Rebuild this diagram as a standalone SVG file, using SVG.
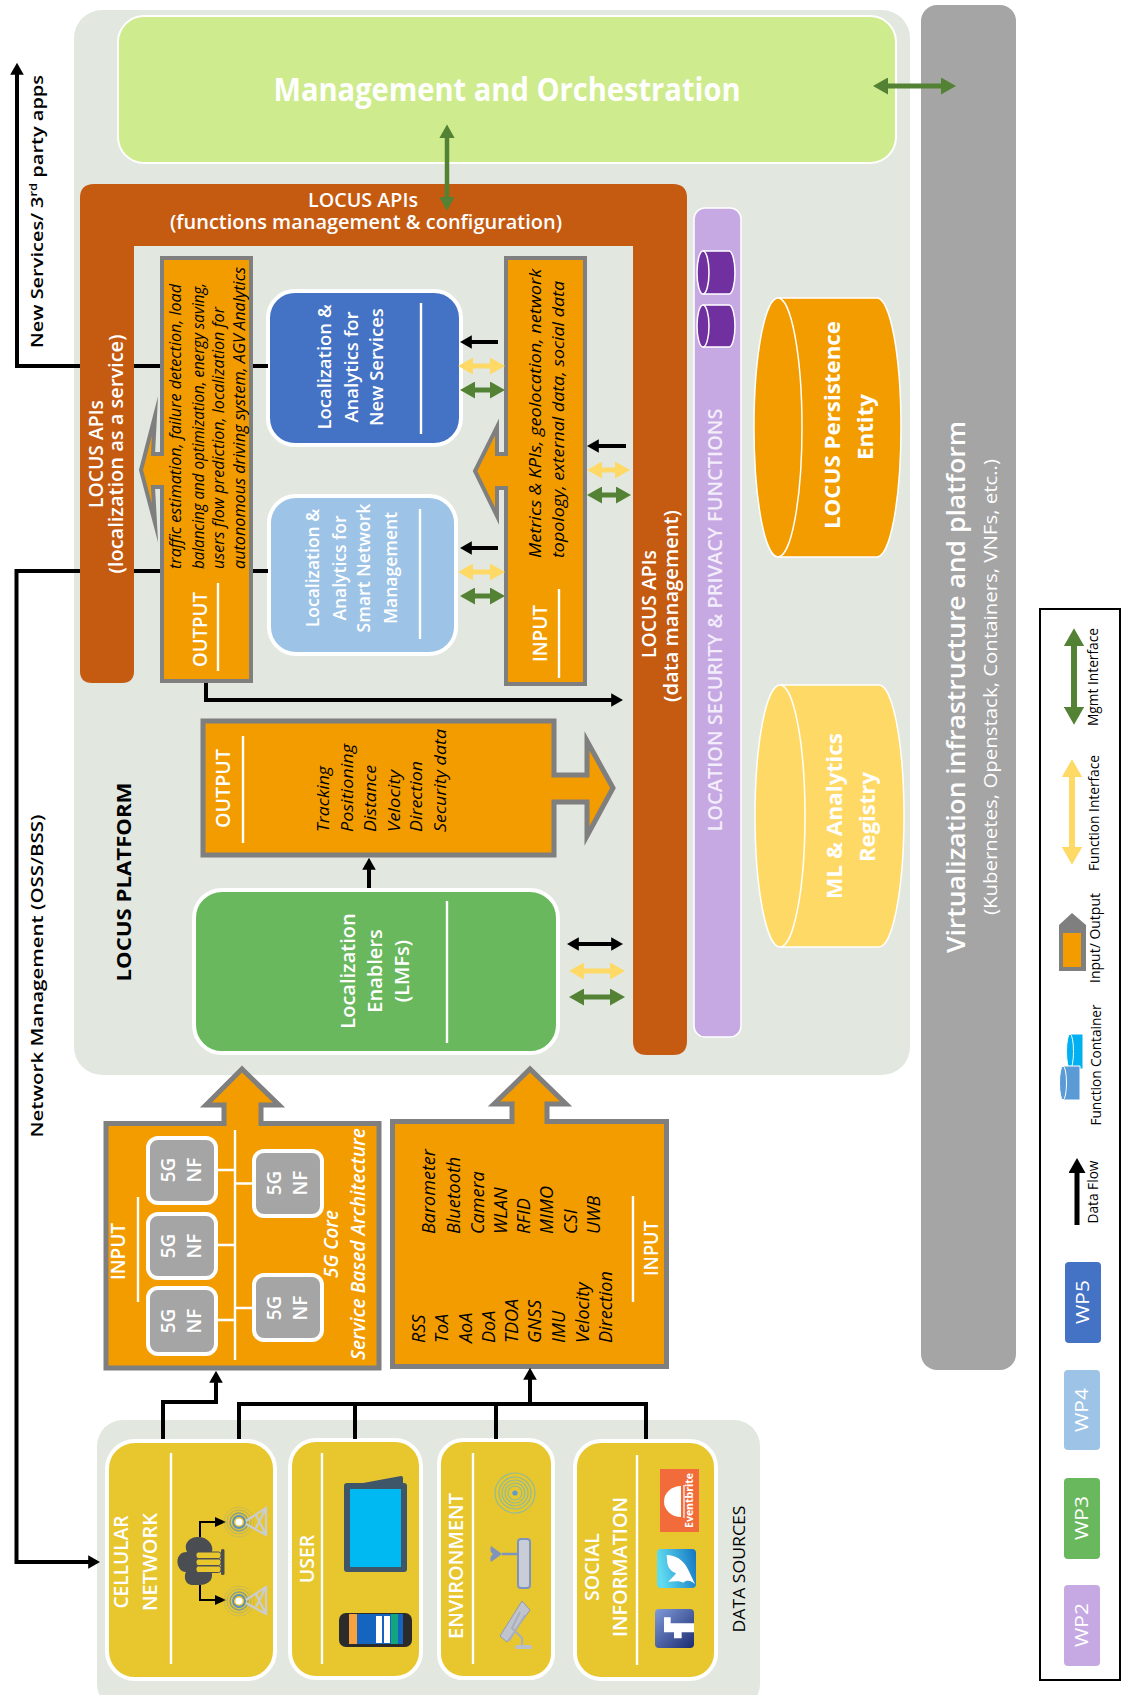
<svg xmlns="http://www.w3.org/2000/svg" width="1122" height="1695" viewBox="0 0 1122 1695" font-family="'Open Sans','Noto Sans',sans-serif">
<style>
.t{fill:#fff;font-weight:600}
.tb{fill:#fff;font-weight:700}
.k{fill:#000}
.i{font-style:italic;font-size:16px;fill:#000}
.wp{stroke:#fff;stroke-width:4}
.io{fill:#F39C00;stroke:#7F7F7F;stroke-width:5;stroke-miterlimit:10}
.ln{stroke:#fff;stroke-width:2.4;fill:none}
.nf{fill:#A5A5A5;stroke:#fff;stroke-width:4}
.src{fill:#E8C62E;stroke:#fff;stroke-width:4}
.cbk{fill:none;stroke:#000;stroke-width:4}
.cy{fill:none;stroke:#FFD966;stroke-width:5}
.cg{fill:none;stroke:#548235;stroke-width:5}
.ct{font-size:14.500px;fill:#000}
</style>
<defs>
<marker id="mk" markerWidth="3" markerHeight="3.4" refX="0.2" refY="1.7" orient="auto-start-reverse"><path d="M0,0L3,1.7L0,3.4z" fill="#000"/></marker>
<marker id="my" markerWidth="3" markerHeight="3.4" refX="0.2" refY="1.7" orient="auto-start-reverse"><path d="M0,0L3,1.7L0,3.4z" fill="#FFD966"/></marker>
<marker id="mg" markerWidth="3" markerHeight="3.4" refX="0.2" refY="1.7" orient="auto-start-reverse"><path d="M0,0L3,1.7L0,3.4z" fill="#548235"/></marker>
<linearGradient id="gt" x1="0" x2="1" y1="0.2" y2="0"><stop offset="0" stop-color="#5FDCF0"/><stop offset="1" stop-color="#1475C2"/></linearGradient>
<linearGradient id="gf" x1="0" x2="1" y1="0" y2="1"><stop offset="0" stop-color="#7F9BDA"/><stop offset="1" stop-color="#1C2C70"/></linearGradient>
<g id="tower">
<circle r="6" fill="none" stroke="#5B8FBF" stroke-width="1.8"/>
<circle r="9" fill="none" stroke="#5B8FBF" stroke-width="1.4" opacity=".7"/>
<circle r="12" fill="none" stroke="#7F9F9F" stroke-width="1" opacity=".5"/>
<circle r="15" fill="none" stroke="#A5A88A" stroke-width="1" opacity=".4"/>
<path d="M7,-1L27,-14L27,13L7,2M17,-7L27,13M27,-14L17,6" fill="none" stroke="#C9CDD3" stroke-width="2.2"/>
<circle r="3.6" fill="#fff"/>
</g>
</defs>

<g id="data-sources-bg">
<rect x="97" y="1420" width="663" height="290" rx="26" fill="#E2E7E0"/>
<text transform="rotate(-90 745 1569)" x="745" y="1569" text-anchor="middle" font-size="17" class="k" textLength="127" lengthAdjust="spacingAndGlyphs">DATA SOURCES</text>
</g>
<g id="platform-bg">
<rect x="74" y="10" width="836" height="1065" rx="28" fill="#E2E7E0"/>
<text transform="rotate(-90 131 882)" x="131" y="882" text-anchor="middle" font-size="20" font-weight="700" class="k" textLength="199" lengthAdjust="spacingAndGlyphs">LOCUS PLATFORM</text>
</g>

<g id="virtualization">
<rect x="921" y="5" width="95" height="1365" rx="16" fill="#A5A5A5"/>
<text class="t" transform="rotate(-90 965 687)" x="965" y="687" text-anchor="middle" font-size="25" textLength="532" lengthAdjust="spacingAndGlyphs">Virtualization infrastructure and platform</text>
<text transform="rotate(-90 997 687)" x="997" y="687" text-anchor="middle" font-size="19" fill="#fff" textLength="456" lengthAdjust="spacingAndGlyphs">(Kubernetes, Openstack, Containers, VNFs, etc..)</text>
</g>

<g id="mano">
<rect x="118" y="16" width="778" height="147" rx="26" fill="#CEEB8D" stroke="#fff" stroke-width="2"/>
<text x="507" y="101" text-anchor="middle" font-size="32" font-weight="700" fill="#fff" textLength="467" lengthAdjust="spacingAndGlyphs">Management and Orchestration</text>
</g>

<g id="locus-apis">
<path d="M94,184H673Q687,184 687,198V1041Q687,1055 673,1055H647Q633,1055 633,1041V246H134V671Q134,683 122,683H92Q80,683 80,671V198Q80,184 94,184Z" fill="#C55A11"/>
<text class="t" x="363" y="207" text-anchor="middle" font-size="20" textLength="110" lengthAdjust="spacingAndGlyphs">LOCUS APIs</text>
<text class="t" x="366" y="229" text-anchor="middle" font-size="20" textLength="392" lengthAdjust="spacingAndGlyphs">(functions management &amp; configuration)</text>
<text class="t" transform="rotate(-90 103 454)" x="103" y="454" text-anchor="middle" font-size="20" textLength="108" lengthAdjust="spacingAndGlyphs">LOCUS APIs</text>
<text class="t" transform="rotate(-90 123 454)" x="123" y="454" text-anchor="middle" font-size="20" textLength="239" lengthAdjust="spacingAndGlyphs">(localization as a service)</text>
<text class="t" transform="rotate(-90 656 604)" x="656" y="604" text-anchor="middle" font-size="20" textLength="108" lengthAdjust="spacingAndGlyphs">LOCUS APIs</text>
<text class="t" transform="rotate(-90 678 606)" x="678" y="606" text-anchor="middle" font-size="20" textLength="192" lengthAdjust="spacingAndGlyphs">(data management)</text>
</g>

<g id="security">
<rect x="694" y="208" width="47" height="829" rx="11" fill="#C6A9E3" stroke="#fff" stroke-width="1.5"/>
<path d="M703,251H729A6,21.5 0 0 1 729,294H703" fill="#7030A0" stroke="#fff" stroke-width="1.5"/>
<ellipse cx="703" cy="272.5" rx="6" ry="21.5" fill="#7030A0" stroke="#fff" stroke-width="1.5"/>
<path d="M703,305H729A6,21 0 0 1 729,347H703" fill="#7030A0" stroke="#fff" stroke-width="1.5"/>
<ellipse cx="703" cy="326" rx="6" ry="21" fill="#7030A0" stroke="#fff" stroke-width="1.5"/>
<text class="t" transform="rotate(-90 722 620)" x="722" y="620" text-anchor="middle" font-size="20" style="fill:#F3ECFA" textLength="423" lengthAdjust="spacingAndGlyphs">LOCATION SECURITY &amp; PRIVACY FUNCTIONS</text>
</g>

<g id="persistence">
<path d="M778,298H877A24,129.5 0 0 1 877,557H778" fill="#F39C00" stroke="#fff" stroke-width="1.5"/>
<ellipse cx="778" cy="427.500" rx="24" ry="129.500" fill="#F39C00" stroke="#fff" stroke-width="1.5"/>
<text class="tb" transform="rotate(-90 840 425)" x="840" y="425" text-anchor="middle" font-size="22" textLength="208" lengthAdjust="spacingAndGlyphs">LOCUS Persistence</text>
<text class="tb" transform="rotate(-90 873 427)" x="873" y="427" text-anchor="middle" font-size="22" textLength="66" lengthAdjust="spacingAndGlyphs">Entity</text>
</g>
<g id="registry">
<path d="M780,685H879A25,131 0 0 1 879,947H780" fill="#FFD966" stroke="#fff" stroke-width="1.5"/>
<ellipse cx="780" cy="816" rx="25" ry="131" fill="#FFD966" stroke="#fff" stroke-width="1.5"/>
<text class="tb" transform="rotate(-90 842 816)" x="842" y="816" text-anchor="middle" font-size="22" textLength="166" lengthAdjust="spacingAndGlyphs">ML &amp; Analytics</text>
<text class="tb" transform="rotate(-90 875 817)" x="875" y="817" text-anchor="middle" font-size="22" textLength="90" lengthAdjust="spacingAndGlyphs">Registry</text>
</g>

<g id="analytics-output">
<path class="io" style="stroke-width:4" d="M162,258H251V681H162V487H153L155,523L141,470L155,416L153,454H162Z"/>
<text class="t" transform="rotate(-90 207 667)" x="207" y="667" font-size="19" textLength="75" lengthAdjust="spacingAndGlyphs">OUTPUT</text>
<path class="ln" d="M218,583V671"/>
<text class="i" transform="rotate(-90 181 569)" x="181" y="569" textLength="285" lengthAdjust="spacingAndGlyphs">traffic estimation, failure detection, load</text>
<text class="i" transform="rotate(-90 204 569)" x="204" y="569" textLength="286" lengthAdjust="spacingAndGlyphs">balancing and optimization, energy saving,</text>
<text class="i" transform="rotate(-90 224 569)" x="224" y="569" textLength="262" lengthAdjust="spacingAndGlyphs">users flow prediction, localization for</text>
<text class="i" transform="rotate(-90 245 569)" x="245" y="569" textLength="302" lengthAdjust="spacingAndGlyphs">autonomous driving system, AGV Analytics</text>
</g>

<g id="analytics-input">
<path class="io" style="stroke-width:4" d="M506,258H585V684H506V488H497V516L475,471L497,427V454H506Z"/>
<text class="t" transform="rotate(-90 547 662)" x="547" y="662" font-size="19" textLength="57" lengthAdjust="spacingAndGlyphs">INPUT</text>
<path class="ln" d="M559,589V678"/>
<text class="i" transform="rotate(-90 541 558)" x="541" y="558" textLength="289" lengthAdjust="spacingAndGlyphs">Metrics &amp; KPIs, geolocation, network</text>
<text class="i" transform="rotate(-90 564 558)" x="564" y="558" textLength="277" lengthAdjust="spacingAndGlyphs">topology, external data, social data</text>
</g>

<g id="wp5-new-services">
<rect class="wp" x="268" y="291" width="193" height="154" rx="27" fill="#4472C4"/>
<text class="t" transform="rotate(-90 331 367)" x="331" y="367" text-anchor="middle" font-size="18.500">Localization &amp;</text>
<text class="t" transform="rotate(-90 358 367)" x="358" y="367" text-anchor="middle" font-size="18.500">Analytics for</text>
<text class="t" transform="rotate(-90 383 367)" x="383" y="367" text-anchor="middle" font-size="18.500">New Services</text>
<path class="ln" d="M421,303V434"/>
</g>
<g id="wp4-network-management">
<rect class="wp" x="269" y="496" width="187" height="158" rx="27" fill="#9DC3E6"/>
<text class="t" transform="rotate(-90 319 568)" x="319" y="568" text-anchor="middle" font-size="17.500">Localization &amp;</text>
<text class="t" transform="rotate(-90 346 568)" x="346" y="568" text-anchor="middle" font-size="17.500">Analytics for</text>
<text class="t" transform="rotate(-90 370 568)" x="370" y="568" text-anchor="middle" font-size="17.500">Smart Network</text>
<text class="t" transform="rotate(-90 397 568)" x="397" y="568" text-anchor="middle" font-size="17.500">Management</text>
<path class="ln" d="M420,509V639"/>
</g>

<g id="lmf-output">
<path class="io" d="M203,721H554V775H587V741L613,788L587,836V802H554V855H203Z"/>
<text class="t" transform="rotate(-90 230 828)" x="230" y="828" font-size="19" textLength="79" lengthAdjust="spacingAndGlyphs">OUTPUT</text>
<path class="ln" d="M243,736V843"/>
<text class="i" transform="rotate(-90 329 832)" x="329" y="832" style="font-size:17px" textLength="66" lengthAdjust="spacingAndGlyphs">Tracking</text>
<text class="i" transform="rotate(-90 353 832)" x="353" y="832" style="font-size:17px" textLength="88" lengthAdjust="spacingAndGlyphs">Positioning</text>
<text class="i" transform="rotate(-90 376 832)" x="376" y="832" style="font-size:17px" textLength="67" lengthAdjust="spacingAndGlyphs">Distance</text>
<text class="i" transform="rotate(-90 400 832)" x="400" y="832" style="font-size:17px" textLength="62" lengthAdjust="spacingAndGlyphs">Velocity</text>
<text class="i" transform="rotate(-90 422 832)" x="422" y="832" style="font-size:17px" textLength="71" lengthAdjust="spacingAndGlyphs">Direction</text>
<text class="i" transform="rotate(-90 446 832)" x="446" y="832" style="font-size:17px" textLength="103" lengthAdjust="spacingAndGlyphs">Security data</text>
</g>

<g id="wp3-lmf">
<rect class="wp" x="194" y="890" width="364" height="163" rx="28" fill="#69B85E"/>
<text class="t" transform="rotate(-90 355 971)" x="355" y="971" text-anchor="middle" font-size="20">Localization</text>
<text class="t" transform="rotate(-90 382 971)" x="382" y="971" text-anchor="middle" font-size="20">Enablers</text>
<text class="t" transform="rotate(-90 409 971)" x="409" y="971" text-anchor="middle" font-size="20">(LMFs)</text>
<path class="ln" d="M447,901V1043"/>
</g>

<g id="input-5g">
<path class="io" d="M106,1123.500H224V1105H206L242,1069L279,1105H261V1123.500H379V1368H106Z"/>
<text class="t" transform="rotate(-90 125 1280)" x="125" y="1280" font-size="19" textLength="57" lengthAdjust="spacingAndGlyphs">INPUT</text>
<path class="ln" d="M138,1197V1302"/>
<path class="ln" d="M235,1130V1360M216,1170H235M216,1245H235M216,1320H235M235,1183.500H254M235,1308H254"/>
<g id="nf1"><rect class="nf" x="148" y="1138" width="68" height="65" rx="10"/></g>
<g id="nf2"><rect class="nf" x="148" y="1214" width="68" height="64" rx="10"/></g>
<g id="nf3"><rect class="nf" x="148" y="1288" width="68" height="66" rx="10"/></g>
<g id="nf4"><rect class="nf" x="254" y="1151" width="68" height="65" rx="10"/></g>
<g id="nf5"><rect class="nf" x="254" y="1275" width="68" height="65" rx="10"/></g>
<g font-size="19" font-weight="600" text-anchor="middle" fill="#fff">
<text transform="rotate(-90 175 1170)" x="175" y="1170">5G</text><text transform="rotate(-90 201 1170)" x="201" y="1170">NF</text>
<text transform="rotate(-90 175 1246)" x="175" y="1246">5G</text><text transform="rotate(-90 201 1246)" x="201" y="1246">NF</text>
<text transform="rotate(-90 175 1321)" x="175" y="1321">5G</text><text transform="rotate(-90 201 1321)" x="201" y="1321">NF</text>
<text transform="rotate(-90 281 1183)" x="281" y="1183">5G</text><text transform="rotate(-90 307 1183)" x="307" y="1183">NF</text>
<text transform="rotate(-90 281 1308)" x="281" y="1308">5G</text><text transform="rotate(-90 307 1308)" x="307" y="1308">NF</text>
</g>
<text transform="rotate(-90 338 1278)" x="338" y="1278" font-size="19" font-style="italic" font-weight="600" fill="#fff" textLength="68" lengthAdjust="spacingAndGlyphs">5G Core</text>
<text transform="rotate(-90 365 1360)" x="365" y="1360" font-size="19" font-style="italic" font-weight="600" fill="#fff" textLength="232" lengthAdjust="spacingAndGlyphs">Service Based Architecture</text>
</g>

<g id="input-radio">
<path class="io" d="M392.500,1121.500H512V1104H494L530,1069L566,1104H547V1121.500H666.500V1366.500H392.500Z"/>
<g font-style="italic" font-size="18" fill="#000">
<text transform="rotate(-90 425 1343)" x="425" y="1343">RSS</text>
<text transform="rotate(-90 448 1343)" x="448" y="1343">ToA</text>
<text transform="rotate(-90 472 1343)" x="472" y="1343">AoA</text>
<text transform="rotate(-90 495 1343)" x="495" y="1343">DoA</text>
<text transform="rotate(-90 518 1343)" x="518" y="1343">TDOA</text>
<text transform="rotate(-90 541 1343)" x="541" y="1343">GNSS</text>
<text transform="rotate(-90 565 1343)" x="565" y="1343">IMU</text>
<text transform="rotate(-90 589 1343)" x="589" y="1343">Velocity</text>
<text transform="rotate(-90 612 1343)" x="612" y="1343">Direction</text>
<text transform="rotate(-90 435 1234)" x="435" y="1234">Barometer</text>
<text transform="rotate(-90 460 1234)" x="460" y="1234">Bluetooth</text>
<text transform="rotate(-90 484 1234)" x="484" y="1234">Camera</text>
<text transform="rotate(-90 507 1234)" x="507" y="1234">WLAN</text>
<text transform="rotate(-90 530 1234)" x="530" y="1234">RFID</text>
<text transform="rotate(-90 553 1234)" x="553" y="1234">MIMO</text>
<text transform="rotate(-90 577 1234)" x="577" y="1234">CSI</text>
<text transform="rotate(-90 600 1234)" x="600" y="1234">UWB</text>
</g>
<text class="t" transform="rotate(-90 658 1276)" x="658" y="1276" font-size="19" textLength="55" lengthAdjust="spacingAndGlyphs">INPUT</text>
<path class="ln" d="M633,1196V1302"/>
</g>

<g id="cellular-network">
<rect class="src" x="107" y="1441" width="168" height="238" rx="28"/>
<text class="t" transform="rotate(-90 128 1562)" x="128" y="1562" text-anchor="middle" font-size="19.500" textLength="93" lengthAdjust="spacingAndGlyphs">CELLULAR</text>
<text class="t" transform="rotate(-90 157 1562)" x="157" y="1562" text-anchor="middle" font-size="19.500" textLength="98" lengthAdjust="spacingAndGlyphs">NETWORK</text>
<path class="ln" d="M171,1453V1664"/>
<path d="M200,1537V1522H216M200,1585V1600H216" fill="none" stroke="#000" stroke-width="2"/>
<path d="M215,1517L226,1522L215,1527ZM215,1595L226,1600L215,1605Z" fill="#000"/>
<path d="M193,1585C184,1585 184,1575 186,1572C176,1572 173,1552 187,1552C183,1543 190,1537 198,1537C208,1537 214,1545 212,1552L212,1576C212,1582 205,1585 200,1585Z" fill="#4A4E52"/>
<g fill="#E8C62E" stroke="#4A4E52" stroke-width="1">
<rect x="196" y="1552" width="25" height="6.500" rx="2.500"/>
<rect x="196" y="1559" width="25" height="6.500" rx="2.500"/>
<rect x="196" y="1566" width="25" height="6.500" rx="2.500"/>
</g>
<rect x="221" y="1549" width="3.500" height="26" rx="1.500" fill="#4A4E52"/>
<use href="#tower" transform="translate(239,1522)"/>
<use href="#tower" transform="translate(239,1601)"/>
</g>

<g id="user">
<rect class="src" x="290" y="1440" width="131" height="238" rx="26"/>
<text class="t" transform="rotate(-90 314 1559)" x="314" y="1559" text-anchor="middle" font-size="19.500">USER</text>
<path class="ln" d="M322,1453V1664"/>
<path d="M363,1483L401,1476Q403,1476 403,1478L403,1483Z" fill="#3F5568"/>
<rect x="344" y="1483" width="63" height="89" rx="3" fill="#3F5568"/>
<rect x="350" y="1489" width="51" height="78" fill="#00B9F2"/>
<rect x="339" y="1613" width="73" height="34" rx="7" fill="#2B2B2B"/>
<rect x="349" y="1614" width="54" height="30" fill="#1565C0"/>
<rect x="349" y="1614" width="8" height="30" fill="#F9A03F"/>
<rect x="376" y="1616" width="6" height="27" fill="#fff"/>
<rect x="384" y="1616" width="6" height="27" fill="#fff"/>
<rect x="391" y="1614" width="7" height="30" fill="#12A67F"/>
</g>

<g id="environment">
<rect class="src" x="439" y="1440" width="114" height="238" rx="24"/>
<text class="t" transform="rotate(-90 463 1566)" x="463" y="1566" text-anchor="middle" font-size="19.500" textLength="146" lengthAdjust="spacingAndGlyphs">ENVIRONMENT</text>
<path class="ln" d="M473,1453V1664"/>
<g fill="none" stroke="#8DBB9E" stroke-width="1.200">
<circle cx="515" cy="1493" r="7"/><circle cx="515" cy="1493" r="10"/><circle cx="515" cy="1493" r="13"/><circle cx="515" cy="1493" r="16"/><circle cx="515" cy="1493" r="20"/>
</g>
<circle cx="515" cy="1493" r="2.600" fill="#5B9BD5"/>
<path d="M517,1554H502" stroke="#7E94BF" stroke-width="2.500"/>
<path d="M502,1554L491,1546Q489,1551 493,1554Q489,1557 491,1562Z" fill="#7E94BF"/>
<rect x="518" y="1539" width="12" height="49" rx="3" fill="#C8CDD8" stroke="#7E94BF" stroke-width="2"/>
<path d="M500,1636L522,1601L530,1610L507,1642Z" fill="#C0C4CC" stroke="#8A9AB8" stroke-width="1"/>
<path d="M520,1612L512,1628L522,1638V1645M509,1641L525,1615" fill="none" stroke="#A9AFBD" stroke-width="2"/>
<rect x="515" y="1645" width="17" height="4" rx="1.500" fill="#B9BEC9"/>
</g>

<g id="social-information">
<rect class="src" x="575" y="1441" width="141" height="238" rx="26"/>
<text class="t" transform="rotate(-90 599 1567)" x="599" y="1567" text-anchor="middle" font-size="19.500">SOCIAL</text>
<text class="t" transform="rotate(-90 627 1567)" x="627" y="1567" text-anchor="middle" font-size="19.500" textLength="140" lengthAdjust="spacingAndGlyphs">INFORMATION</text>
<path class="ln" d="M637,1455V1665"/>
<rect x="660" y="1469" width="39" height="63" fill="#F26B3A"/>
<path d="M681,1486A17,15.500 0 0 0 681,1517Z" fill="#fff"/>
<path d="M684,1485V1518" stroke="#fff" stroke-width="1.200"/>
<text transform="rotate(-90 693 1528)" x="693" y="1528" font-size="10" font-weight="700" fill="#fff" textLength="55" lengthAdjust="spacingAndGlyphs">Eventbrite</text>
<rect x="657" y="1549" width="39" height="39" rx="4" fill="url(#gt)"/>
<path transform="translate(640,1460) scale(.3333)" d="M80,285C100,285 130,295 145,330L165,372C150,360 140,360 130,368C115,360 100,365 85,365C100,350 105,345 108,340C95,335 85,325 82,310Z" fill="#fff"/>
<rect x="655" y="1609" width="39" height="39" rx="4" fill="url(#gf)"/>
<path transform="translate(640,1460) scale(.3333)" d="M72,472H92V490H162V517H125V535H102V517H72Z" fill="#fff"/>
</g>

<g id="legend">
<rect x="1040" y="609" width="80" height="1071" fill="#fff" stroke="#000" stroke-width="2"/>
<path d="M1074,645V708" class="cg" style="stroke-width:6" marker-start="url(#mg)" marker-end="url(#mg)"/>
<text class="ct" transform="rotate(-90 1098 677)" x="1098" y="677" text-anchor="middle" textLength="98" lengthAdjust="spacingAndGlyphs">Mgmt Interface</text>
<path d="M1072,776V848" class="cy" style="stroke-width:6" marker-start="url(#my)" marker-end="url(#my)"/>
<text class="ct" transform="rotate(-90 1099 813)" x="1099" y="813" text-anchor="middle" textLength="116" lengthAdjust="spacingAndGlyphs">Function Interface</text>
<path d="M1059,971V925L1072,913L1086,925V971Z" fill="#7F7F7F"/>
<rect x="1063" y="933" width="18" height="34" fill="#F39C00"/>
<text class="ct" transform="rotate(-90 1100 938)" x="1100" y="938" text-anchor="middle" textLength="90" lengthAdjust="spacingAndGlyphs">Input/ Output</text>
<path d="M1070,1034H1083V1069H1070" fill="#00B0F0" stroke="#fff" stroke-width="1"/>
<ellipse cx="1070" cy="1051.500" rx="3.500" ry="17.500" fill="#00B0F0" stroke="#fff" stroke-width="1"/>
<path d="M1063,1066H1080V1100H1063" fill="#5B9BD5" stroke="#fff" stroke-width="1"/>
<ellipse cx="1063" cy="1083" rx="3.500" ry="17" fill="#5B9BD5" stroke="#fff" stroke-width="1"/>
<text class="ct" transform="rotate(-90 1101 1065)" x="1101" y="1065" text-anchor="middle" textLength="121" lengthAdjust="spacingAndGlyphs">Function Container</text>
<path d="M1077,1225V1172" class="cbk" style="stroke-width:5" marker-end="url(#mk)"/>
<text class="ct" transform="rotate(-90 1098 1192)" x="1098" y="1192" text-anchor="middle" textLength="63" lengthAdjust="spacingAndGlyphs">Data Flow</text>
<g font-size="18" text-anchor="middle" fill="#fff">
<rect x="1065" y="1262" width="36" height="81" rx="4" fill="#4472C4"/>
<text transform="rotate(-90 1089 1302)" x="1089" y="1302" textLength="44" lengthAdjust="spacingAndGlyphs">WP5</text>
<rect x="1064" y="1370" width="36" height="80" rx="4" fill="#9DC3E6"/>
<text transform="rotate(-90 1088 1410)" x="1088" y="1410" textLength="44" lengthAdjust="spacingAndGlyphs">WP4</text>
<rect x="1064" y="1478" width="36" height="81" rx="4" fill="#69B85E"/>
<text transform="rotate(-90 1088 1518)" x="1088" y="1518" textLength="44" lengthAdjust="spacingAndGlyphs">WP3</text>
<rect x="1064" y="1585" width="36" height="81" rx="4" fill="#C6A9E3"/>
<text transform="rotate(-90 1088 1625)" x="1088" y="1625" textLength="44" lengthAdjust="spacingAndGlyphs">WP2</text>
</g>
</g>

<g id="external-labels">
<text transform="rotate(-90 43 348)" x="43" y="348" font-size="17" font-weight="600" class="k" textLength="273" lengthAdjust="spacingAndGlyphs">New Services/ 3<tspan font-size="11" dy="-6">rd</tspan><tspan dy="6"> party apps</tspan></text>
<text transform="rotate(-90 43 976)" x="43" y="976" text-anchor="middle" font-size="17" font-weight="600" class="k" textLength="323" lengthAdjust="spacingAndGlyphs">Network Management (OSS/BSS)</text>
</g>

<g id="connectors">
<path class="cbk" d="M268,366H253M160,366H134"/>
<path class="cbk" d="M80,366H17V74" marker-end="url(#mk)"/>
<path class="cbk" d="M268,571H253M160,571H134"/>
<path class="cbk" d="M80,571H16.500V1562H89" marker-end="url(#mk)"/>
<path class="cbk" d="M206,683V700H612" marker-end="url(#mk)"/>
<path class="cbk" d="M369,888V869" marker-end="url(#mk)"/>
<path class="cbk" d="M163,1439V1402H216V1382" marker-end="url(#mk)"/>
<path class="cbk" d="M239,1439V1404H646V1439M355,1404V1439M496,1404V1439"/>
<path class="cbk" d="M530,1404V1379" marker-end="url(#mk)"/>
<path class="cg" style="stroke-width:4.500" d="M447,137V198" marker-start="url(#mg)" marker-end="url(#mg)"/>
<path class="cg" d="M887,86H942" marker-start="url(#mg)" marker-end="url(#mg)"/>
<path class="cbk" d="M498,342H471" marker-end="url(#mk)"/>
<path class="cy" d="M472,366H491" marker-start="url(#my)" marker-end="url(#my)"/>
<path class="cg" d="M474,390H491" marker-start="url(#mg)" marker-end="url(#mg)"/>
<path class="cbk" d="M498,548H471" marker-end="url(#mk)"/>
<path class="cy" d="M472,572H491" marker-start="url(#my)" marker-end="url(#my)"/>
<path class="cg" d="M474,596H491" marker-start="url(#mg)" marker-end="url(#mg)"/>
<path class="cbk" d="M626,446H598" marker-end="url(#mk)"/>
<path class="cy" d="M601,470H616" marker-start="url(#my)" marker-end="url(#my)"/>
<path class="cg" d="M601,495H617" marker-start="url(#mg)" marker-end="url(#mg)"/>
<path class="cbk" d="M578,944H612" marker-start="url(#mk)" marker-end="url(#mk)"/>
<path class="cy" d="M583,971H611" marker-start="url(#my)" marker-end="url(#my)"/>
<path class="cg" d="M583,997H611" marker-start="url(#mg)" marker-end="url(#mg)"/>
</g>
</svg>
